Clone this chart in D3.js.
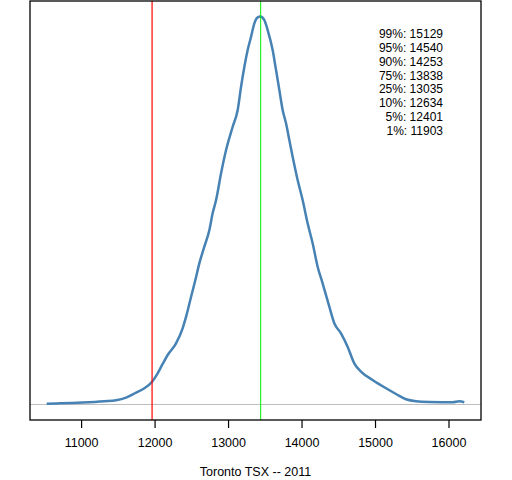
<!DOCTYPE html>
<html>
<head>
<meta charset="utf-8">
<script src="https://cdn.jsdelivr.net/npm/d3@7"></script>
<style>
  body { margin: 0; background: #fff; }
  text { font-family: "Liberation Sans", Arial, sans-serif; fill: #000; }
</style>
</head>
<body>
<svg id="chart" width="512" height="480"></svg>
<script>
// density curve (index level, density)
var levels = [10532, 10705, 11022, 11317, 11476, 11612, 11748, 11861, 11966, 12042,
              12110, 12178, 12292, 12382, 12429, 12497, 12555, 12609, 12677, 12746,
              12790, 12837, 12905, 12973, 13063, 13131, 13177, 13222, 13267, 13313,
              13358, 13403, 13439, 13494, 13539, 13607, 13653, 13698, 13743, 13789,
              13834, 13879, 13947, 14015, 14083, 14151, 14219, 14287, 14378, 14446,
              14537, 14627, 14718, 14809, 14967, 15150, 15286, 15422, 15558, 15739,
              16056, 16147, 16215];
var density = [1.5e-6, 2.0e-6, 3.5e-6, 5.8e-6, 7.6e-6, 12.3e-6, 21.3e-6, 29.2e-6, 41.1e-6, 56.3e-6,
               73.1e-6, 89.3e-6, 110.4e-6, 137.5e-6, 158.4e-6, 194.5e-6, 224.6e-6, 254.7e-6, 284.7e-6, 314.8e-6,
               344.9e-6, 368.9e-6, 417.1e-6, 459.1e-6, 501.1e-6, 531.3e-6, 573.3e-6, 609.4e-6, 639.5e-6, 663.5e-6,
               687.7e-6, 698.5e-6, 700.0e-6, 693.6e-6, 675.6e-6, 639.5e-6, 603.4e-6, 567.4e-6, 531.3e-6, 507.3e-6,
               477.2e-6, 447.0e-6, 405.0e-6, 368.9e-6, 326.9e-6, 290.8e-6, 248.6e-6, 218.6e-6, 176.4e-6, 146.5e-6,
               128.4e-6, 104.3e-6, 74.3e-6, 59.2e-6, 44.2e-6, 29.2e-6, 18.9e-6, 9.4e-6, 5.8e-6, 4.5e-6,
               4.0e-6, 5.8e-6, 4.0e-6];

var quantLabels = ["99%", "95%", "90%", "75%", "25%", "10%", "5%", "1%"];
var quantValues = [15129, 14540, 14253, 13838, 13035, 12634, 12401, 11903];

var xTicks = [11000, 12000, 13000, 14000, 15000, 16000];
var redLevel = 11966;   // red marker
var peakLevel = 13444;  // green marker at the mode
var xTitle = "Toronto TSX -- 2011";

// plot region (note: "top" is reserved on window, so use other names)
var plotL = 30, plotR = 481, plotT = 1, plotB = 420;
var svg = d3.select("#chart");

// R style 4% padding on both axes
var xExt = d3.extent(levels);
var xPad = (xExt[1] - xExt[0]) * 0.04;
var x = d3.scaleLinear().domain([xExt[0] - xPad, xExt[1] + xPad]).range([plotL, plotR]);
var dMax = d3.max(density);
var y = d3.scaleLinear().domain([-0.04 * dMax, 1.04 * dMax]).range([plotB, plotT]);

var pts = levels.map(function(v, i){ return [v, density[i]]; });

// baseline at zero
svg.append("line")
   .attr("x1", plotL).attr("x2", plotR)
   .attr("y1", y(0)).attr("y2", y(0))
   .attr("stroke", "#bebebe").attr("stroke-width", 1);

svg.append("path")
   .datum(pts)
   .attr("fill", "none")
   .attr("stroke", "#4682b4")
   .attr("stroke-width", 2.5)
   .attr("stroke-linejoin", "round")
   .attr("d", d3.line()
                .x(function(d){ return x(d[0]); })
                .y(function(d){ return y(d[1]); })
                .curve(d3.curveMonotoneX));

svg.append("line")
   .attr("x1", x(redLevel)).attr("x2", x(redLevel))
   .attr("y1", plotT).attr("y2", plotB)
   .attr("stroke", "#ff0000").attr("stroke-width", 1.2);

svg.append("line")
   .attr("x1", x(peakLevel)).attr("x2", x(peakLevel))
   .attr("y1", plotT).attr("y2", plotB)
   .attr("stroke", "#00ee00").attr("stroke-width", 1);

// box
svg.append("rect")
   .attr("x", plotL).attr("y", plotT)
   .attr("width", plotR - plotL).attr("height", plotB - plotT)
   .attr("fill", "none").attr("stroke", "#000").attr("stroke-width", 1.3);

// x axis
var axis = svg.append("g")
   .attr("transform", "translate(0," + plotB + ")")
   .call(d3.axisBottom(x).tickValues(xTicks).tickSize(8).tickPadding(10)
           .tickFormat(d3.format("d")));
axis.select(".domain").remove();
axis.selectAll("line").attr("stroke", "#000").attr("stroke-width", 1.2);
axis.selectAll("text").attr("font-size", 12.5)
    .style("font-family", '"Liberation Sans", Arial, sans-serif').attr("fill", "#000");

svg.append("text")
   .attr("x", (plotL + plotR) / 2).attr("y", 476)
   .attr("text-anchor", "middle").attr("font-size", 12.5)
   .text(xTitle);

// quantile block
svg.selectAll("text.quant")
   .data(quantLabels)
   .enter().append("text")
   .attr("class", "quant")
   .attr("x", 443)
   .attr("y", function(d, i){ return 38 + i * 13.86; })
   .attr("text-anchor", "end")
   .attr("font-size", 12)
   .text(function(d, i){ return d + ": " + quantValues[i]; });
</script>
</body>
</html>
